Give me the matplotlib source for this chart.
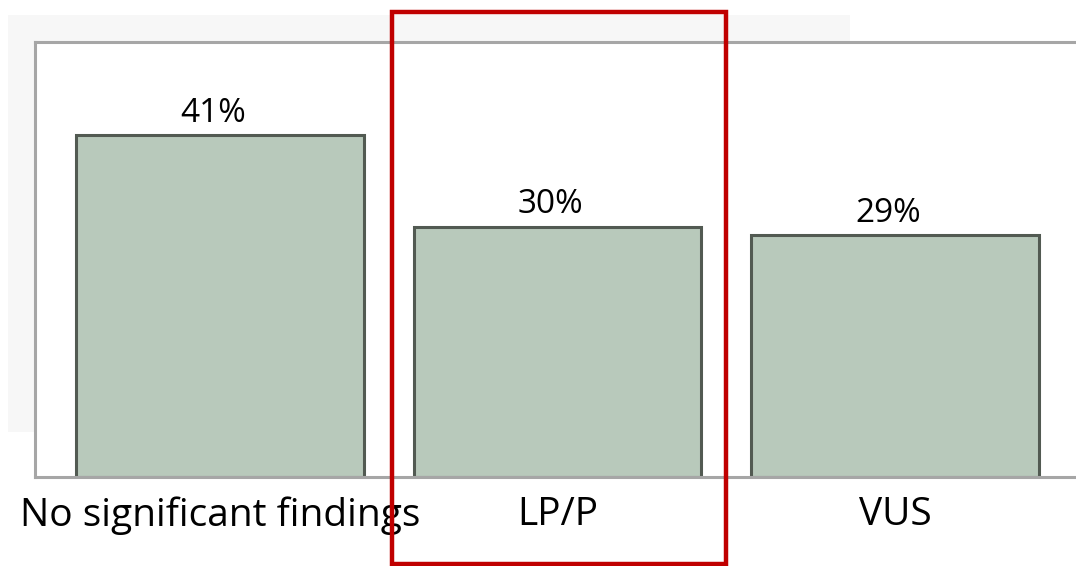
import matplotlib.pyplot as plt
from matplotlib.patches import Rectangle

categories = ["No significant findings", "LP/P", "VUS"]
shares = [41, 30, 29]
value_labels = ["41%", "30%", "29%"]

plt.rcParams["font.family"] = ["Open Sans", "DejaVu Sans"]

fig = plt.figure(figsize=(10.76, 5.66), dpi=100)

# pale panel behind the top-left of the chart
fig.add_artist(Rectangle((8 / 1076, 1 - 432 / 566), 842 / 1076, 417 / 566,
                         transform=fig.transFigure, facecolor="#f7f7f7",
                         edgecolor="none", zorder=-1))

ax = fig.add_axes([35 / 1076, 1 - 477 / 566, 1045 / 1076, 435 / 566])
ax.set_facecolor("white")
x = range(len(categories))
bars = ax.bar(x, shares, width=0.853, color="#b8c9bb", edgecolor="#525a52",
              linewidth=2.2, zorder=2)
for bar, text in zip(bars, value_labels):
    ax.annotate(text, (bar.get_x() + bar.get_width() / 2, bar.get_height()),
                xytext=(-5, 4), textcoords="offset points", ha="center",
                va="bottom", fontsize=24)

ax.set_xlim(-0.548, 2.548)
ax.set_ylim(0, 52.2)
ax.set_yticks([])
ax.set_xticks(list(x), categories, fontsize=28)
ax.tick_params(axis="x", length=0, pad=14)
for side in ["left", "top", "bottom", "right"]:
    ax.spines[side].set_color("#a6a6a6")
    ax.spines[side].set_linewidth(2.2)

# highlight box around the LP/P column
fig.add_artist(Rectangle((392 / 1076, 1 - 564 / 566), 334 / 1076, 552 / 566,
                         transform=fig.transFigure, facecolor="none",
                         edgecolor="#c00000", linewidth=3.2, zorder=5))

fig.savefig("out.png", dpi=100)
